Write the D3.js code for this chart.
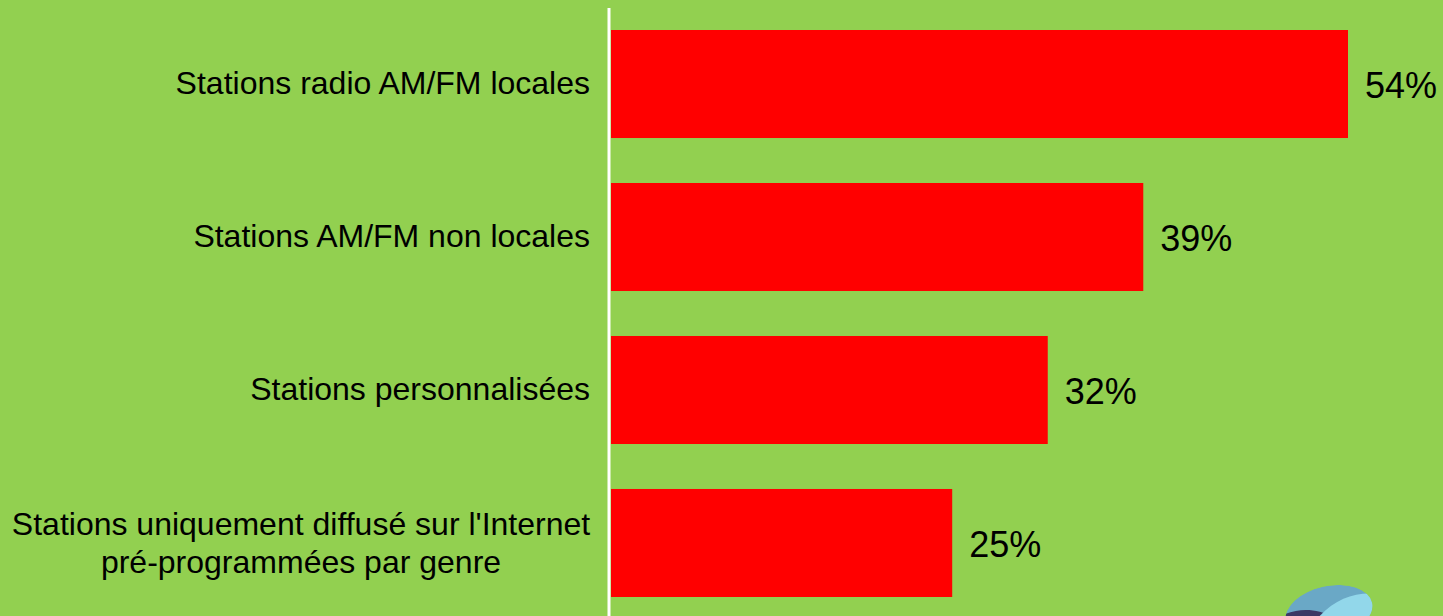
<!DOCTYPE html>
<html lang="fr">
  <head>
    <meta charset="utf-8">
    <title>Stations radio</title>
    <style>
      body { margin: 0; background: #92d050; }
      svg { display: block; }
      .cat text { font-family: "Liberation Sans", Arial, sans-serif; font-size: 32px; fill: #000; }
      .val { font-family: "Liberation Sans", Arial, sans-serif; font-size: 36px; fill: #000; }
    </style>
  </head>
  <body>
<svg id="chart" width="1443" height="616"></svg>
<script src="https://cdn.jsdelivr.net/npm/d3@7"></script>
<script>

var categories = [
  ["Stations radio AM/FM locales"],
  ["Stations AM/FM non locales"],
  ["Stations personnalisées"],
  ["Stations uniquement diffusé sur l'Internet", "pré-programmées par genre"]
];
var values = [54, 39, 32, 25];
var valueLabels = ["54%", "39%", "32%", "25%"];

var svg = d3.select("svg#chart");
var x0 = 611;

var x = d3.scaleLinear().domain([0, 54]).range([x0, 1348]);
var y = d3.scaleBand().domain(d3.range(values.length))
    .range([30, 597]).paddingInner(0.294).paddingOuter(0);

svg.append("rect").attr("width", 1443).attr("height", 616).attr("fill", "#92d050");

svg.selectAll("rect.bar")
    .data(values)
    .enter().append("rect")
    .attr("class", "bar")
    .attr("x", x(0))
    .attr("y", function(d, i) { return y(i); })
    .attr("width", function(d) { return x(d) - x(0); })
    .attr("height", y.bandwidth())
    .attr("fill", "#ff0000");

// axis line
svg.append("line")
    .attr("x1", 609).attr("x2", 609)
    .attr("y1", 8).attr("y2", 616)
    .attr("stroke", "#fff").attr("stroke-width", 3);

var cat = svg.append("g").attr("class", "cat")
  .selectAll("text")
  .data(categories)
  .enter().append("text")
    .attr("text-anchor", "end")
    .attr("x", 590)
    .attr("y", function(d, i) { return y(i) + y.bandwidth() / 2; });

cat.selectAll("tspan")
    .data(function(d) { return d.map(function(t, j) { return {t: t, j: j, n: d.length}; }); })
    .enter().append("tspan")
    .attr("x", function(d) { return d.n > 1 ? 301 : 590; })
    .attr("text-anchor", function(d) { return d.n > 1 ? "middle" : "end"; })
    .attr("dy", function(d) {
      if (d.n === 1) return "0.32em";
      return d.j === 0 ? "-0.24em" : "1.18em";
    })
    .text(function(d) { return d.t; });

svg.selectAll("text.val")
    .data(values)
    .enter().append("text")
    .attr("class", "val")
    .attr("x", function(d) { return x(d) + 17; })
    .attr("y", function(d, i) { return y(i) + y.bandwidth() / 2; })
    .attr("dy", "0.38em")
    .text(function(d, i) { return valueLabels[i]; });

// logo in the bottom right corner
var logo = svg.append("g").attr("transform", "translate(1329,612) rotate(-12)");
logo.append("clipPath").attr("id", "lc")
  .append("ellipse").attr("rx", 44).attr("ry", 26);
var lg = logo.append("g").attr("clip-path", "url(#lc)");
lg.append("ellipse").attr("rx", 44).attr("ry", 26).attr("fill", "#6aa8c6");
lg.append("path").attr("d", "M-50,-6 C-25,-12 -10,-4 5,6 L5,30 L-50,30 Z").attr("fill", "#3b3964");
lg.append("path").attr("d", "M-10,2 C10,-12 30,-14 50,-8 L50,30 L-10,30 Z").attr("fill", "#92d7ea");
</script>
  </body>
</html>
